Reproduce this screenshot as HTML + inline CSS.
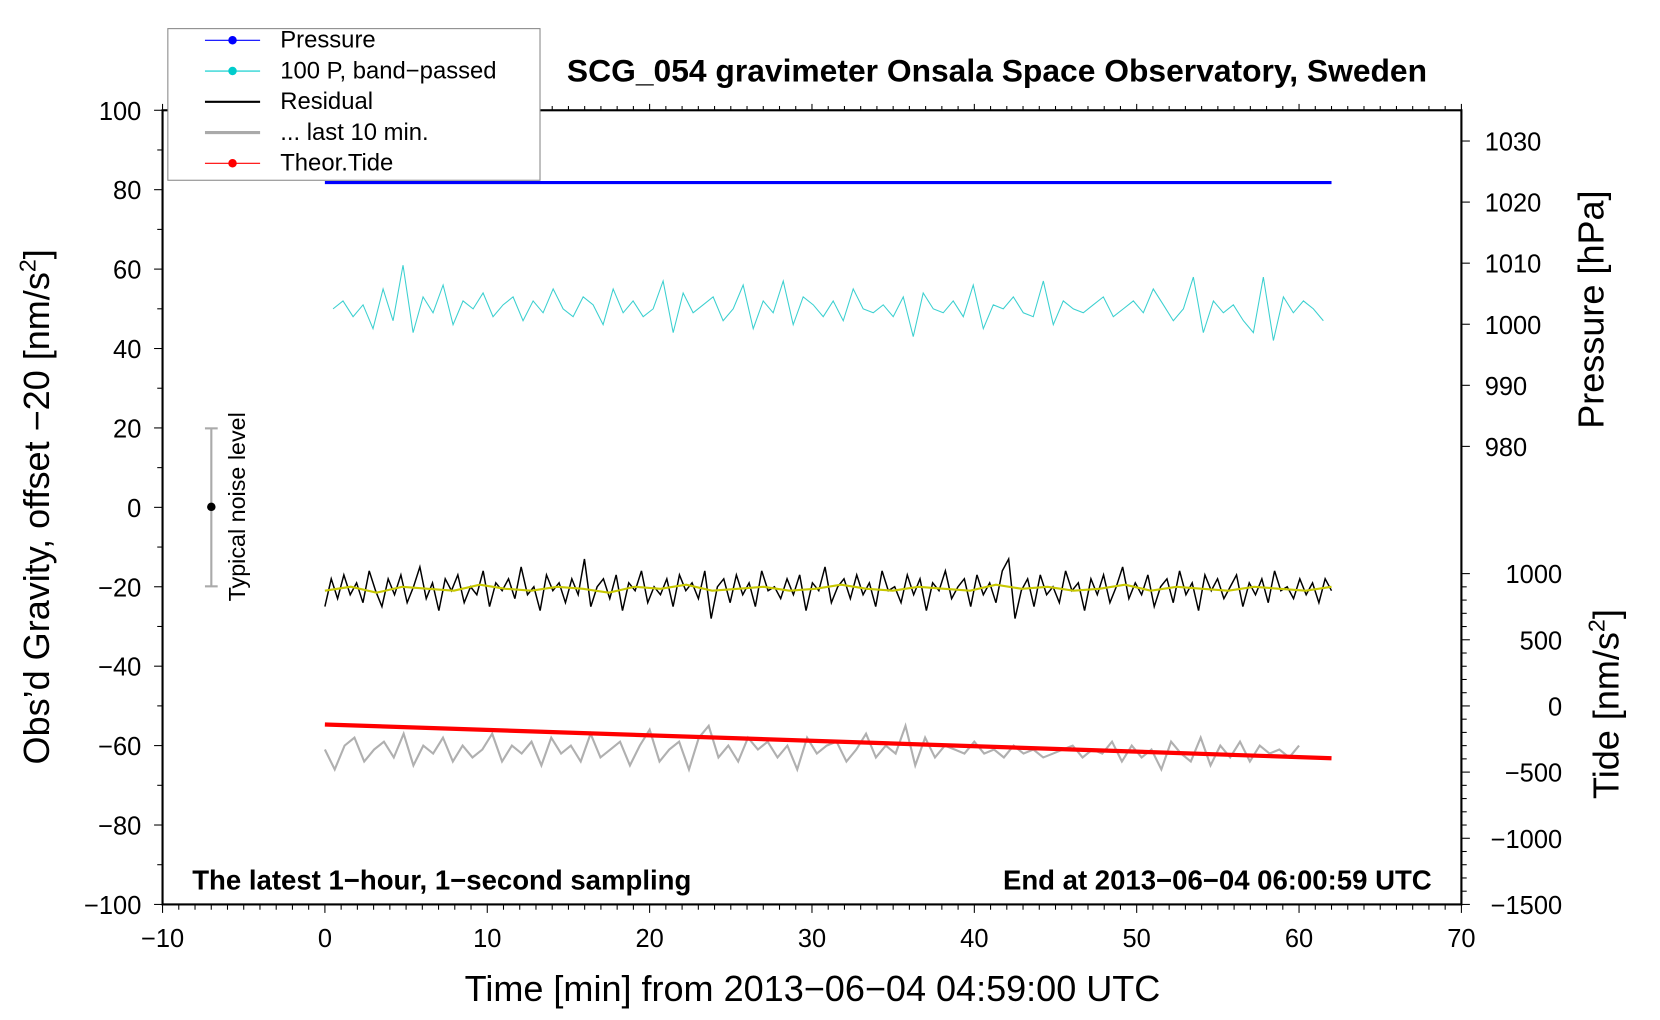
<!DOCTYPE html>
<html><head><meta charset="utf-8"><style>
html,body{margin:0;padding:0;background:#fff}
svg{display:block;font-family:"Liberation Sans",Helvetica,Arial,sans-serif}
</style></head><body>
<svg id="chart" width="1660" height="1020" viewBox="0 0 1565 962" xmlns="http://www.w3.org/2000/svg">
<g id="marks"></g>
<g id="axes"></g>
<text x="940" y="77" text-anchor="middle" font-size="30" font-weight="bold">SCG_054 gravimeter Onsala Space Observatory, Sweden</text>
<text transform="translate(46,478) rotate(-90)" text-anchor="middle" font-size="34">Obs’d Gravity, offset −20 [nm/s<tspan dy="-13" font-size="22">2</tspan><tspan dy="13">]</tspan></text>
<text transform="translate(1512,292) rotate(-90)" text-anchor="middle" font-size="34">Pressure [hPa]</text>
<text transform="translate(1526,664) rotate(-90)" text-anchor="middle" font-size="34">Tide [nm/s<tspan dy="-13" font-size="22">2</tspan><tspan dy="13">]</tspan></text>
<text x="766" y="944" text-anchor="middle" font-size="34">Time [min] from 2013−06−04 04:59:00 UTC</text>
<text x="181" y="839" font-size="26" font-weight="bold">The latest 1−hour, 1−second sampling</text>
<text x="1350" y="839" text-anchor="end" font-size="26" font-weight="bold">End at 2013−06−04 06:00:59 UTC</text>
<g>
<line x1="199" y1="404" x2="199" y2="553" stroke="#aaa" stroke-width="2"/>
<line x1="193" y1="404" x2="205" y2="404" stroke="#aaa" stroke-width="2"/>
<line x1="193" y1="553" x2="205" y2="553" stroke="#aaa" stroke-width="2"/>
<circle cx="199" cy="478" r="4" fill="#000"/>
<text transform="translate(231,478) rotate(-90)" text-anchor="middle" font-size="22">Typical noise level</text>
</g>
<g>
<rect x="158" y="27" width="351" height="143" fill="#fff" stroke="#888" stroke-width="1"/>
<g><line x1="193" y1="38" x2="245" y2="38" stroke="#00f" stroke-width="1"/><circle cx="219" cy="38" r="4" fill="#00f"/><text x="264" y="45" font-size="22.5">Pressure</text></g>
<g><line x1="193" y1="67" x2="245" y2="67" stroke="#0cc" stroke-width="1"/><circle cx="219" cy="67" r="4" fill="#0cc"/><text x="264" y="74" font-size="22.5">100 P, band−passed</text></g>
<g><line x1="193" y1="96" x2="245" y2="96" stroke="#000" stroke-width="2"/><text x="264" y="103" font-size="22.5">Residual</text></g>
<g><line x1="193" y1="125" x2="245" y2="125" stroke="#aaa" stroke-width="3"/><text x="264" y="132" font-size="22.5">... last 10 min.</text></g>
<g><line x1="193" y1="154" x2="245" y2="154" stroke="#f00" stroke-width="1"/><circle cx="219" cy="154" r="4" fill="#f00"/><text x="264" y="161" font-size="22.5">Theor.Tide</text></g>
</g>
</svg>
<script>
const pressureTimes = [0, 62];
const pressureValues = [1023.2, 1023.2];
const bandPassed = [50,52,48,51,45,55,47,61,44,53,49,56,46,52,50,54,48,51,53,47,52,49,55,50,48,53,51,46,55,49,52,48,50,57,44,54,49,51,53,47,50,56,45,52,49,57,46,53,51,48,52,47,55,50,49,51,48,53,43,54,50,49,52,48,56,45,51,50,53,49,48,57,46,52,50,49,51,53,48,50,52,49,55,51,47,50,58,44,52,49,51,47,44,58,42,53,49,52,50,47];
const residual = [-25,-18,-23,-17,-22,-19,-24,-16,-21,-25,-18,-22,-17,-24,-20,-15,-23,-19,-26,-18,-21,-17,-24,-20,-22,-16,-25,-19,-21,-18,-23,-15,-22,-20,-26,-17,-21,-19,-24,-18,-22,-13,-25,-20,-18,-23,-17,-26,-19,-21,-16,-24,-20,-22,-18,-25,-17,-21,-19,-23,-16,-28,-20,-18,-24,-17,-22,-19,-25,-16,-21,-20,-23,-18,-22,-17,-26,-19,-21,-15,-24,-20,-18,-23,-17,-22,-19,-25,-16,-21,-20,-24,-17,-22,-18,-26,-19,-21,-16,-23,-20,-18,-25,-17,-22,-19,-24,-16,-13,-28,-21,-18,-25,-17,-22,-20,-24,-16,-21,-19,-26,-18,-22,-17,-24,-20,-15,-23,-19,-22,-17,-25,-20,-18,-24,-16,-22,-19,-26,-17,-21,-18,-23,-20,-17,-25,-19,-22,-18,-24,-16,-21,-20,-23,-18,-22,-19,-24,-18,-21];
const residualSmooth = [-21,-20,-21.5,-20,-20.5,-21,-19.5,-20.5,-21,-20,-20.5,-21.5,-20,-20.5,-19.5,-21,-20.5,-20,-21,-20.5,-19.5,-20.5,-21,-20,-20.5,-21,-19.5,-20.5,-20,-21,-20.5,-19.5,-21,-20,-20.5,-21,-20,-20.5,-21,-20];
const lastTen = [-61,-66,-60,-58,-64,-61,-59,-63,-57,-65,-60,-62,-58,-64,-60,-63,-61,-57,-64,-60,-62,-59,-65,-58,-62,-60,-64,-57,-63,-61,-59,-65,-60,-56,-64,-61,-59,-66,-58,-55,-63,-60,-64,-58,-61,-59,-63,-60,-66,-58,-62,-60,-59,-64,-61,-57,-63,-60,-62,-55,-65,-58,-63,-60,-61,-62,-59,-62,-61,-63,-60,-62,-61,-63,-62,-61,-60,-63,-61,-62,-59,-64,-60,-63,-61,-66,-59,-62,-64,-58,-65,-60,-63,-59,-64,-60,-62,-61,-63,-60];
const tideTimes = [0, 62];
const tideValues = [-140, -395];
const xTicks = [-10,0,10,20,30,40,50,60,70];
const yTicks = [100,80,60,40,20,0,-20,-40,-60,-80,-100];
const pressureTicks = [1030,1020,1010,1000,990,980];
const tideTicks = [1000,500,0,-500,-1000,-1500];

const L=153,R=1378,T=104,B=853;
const X=t=>L+(t+10)*(R-L)/80;
const Y=v=>T+(100-v)*(B-T)/200;
const YP=p=>133+(1030-p)*(421-133)/50;
const YT=v=>853-(v+1500)*(853-541)/2500;
const NS='http://www.w3.org/2000/svg';
const marks=document.getElementById('marks'), axes=document.getElementById('axes');
function mk(tag,attrs,parent){const e=document.createElementNS(NS,tag);for(const k in attrs)e.setAttribute(k,attrs[k]);parent.appendChild(e);return e;}
function path(xs,ys){return xs.map((x,i)=>(i?'L':'M')+x.toFixed(1)+' '+ys[i].toFixed(1)).join('');}
function spread(arr,t0,t1){return arr.map((_,i)=>t0+(t1-t0)*i/(arr.length-1));}

let e;
e=mk('path',{d:path(spread(bandPassed,0.5,61.5).map(X),bandPassed.map(Y)),fill:'none',stroke:'#3cd0d0','stroke-width':1},marks);


e=mk('path',{d:path(spread(residual,0,62).map(X),residual.map(Y)),fill:'none',stroke:'#000','stroke-width':1.4},marks);


e=mk('path',{d:path(spread(residualSmooth,0,62).map(X),residualSmooth.map(Y)),fill:'none',stroke:'#c8c800','stroke-width':2},marks);


e=mk('path',{d:path(spread(lastTen,0,60).map(X),lastTen.map(Y)),fill:'none',stroke:'#b0b0b0','stroke-width':2},marks);


e=mk('path',{d:path(tideTimes.map(X),tideValues.map(YT)),fill:'none',stroke:'#f00','stroke-width':4},marks);


e=mk('path',{d:path(pressureTimes.map(X),pressureValues.map(YP)),fill:'none',stroke:'#00f','stroke-width':3},marks);



e=mk('rect',{x:L,y:T,width:R-L,height:B-T,fill:'none',stroke:'#000','stroke-width':2},axes);


for(let t=-10;t<=70;t++){const maj=t%10===0;
 mk('line',{x1:X(t),x2:X(t),y1:B,y2:B+(maj?8:5),stroke:'#000','stroke-width':1},axes);
 mk('line',{x1:X(t),x2:X(t),y1:T,y2:T-(maj?6:4),stroke:'#000','stroke-width':1},axes);}
xTicks.forEach(t=>{e=mk('text',{x:X(t),y:B+40,'text-anchor':'middle','font-size':24},axes);e.textContent=String(t).replace('-','−');

});
for(let v=-100;v<=100;v+=10){const maj=v%20===0;mk('line',{x1:L,x2:L-(maj?8:5),y1:Y(v),y2:Y(v),stroke:'#000','stroke-width':1},axes);}
yTicks.forEach(v=>{e=mk('text',{x:L-20,y:Y(v)+9,'text-anchor':'end','font-size':24},axes);e.textContent=String(v).replace('-','−');

});
pressureTicks.forEach(p=>{mk('line',{x1:R,x2:R+8,y1:YP(p),y2:YP(p),stroke:'#000','stroke-width':1},axes);
e=mk('text',{x:1400,y:YP(p)+9,'font-size':24},axes);e.textContent=p;

});
for(let v=-1500;v<=1000;v+=100){const maj=v%500===0;mk('line',{x1:R,x2:R+(maj?8:5),y1:YT(v),y2:YT(v),stroke:'#000','stroke-width':1},axes);}
tideTicks.forEach(v=>{e=mk('text',{x:1473,y:YT(v)+9,'text-anchor':'end','font-size':24},axes);e.textContent=String(v).replace('-','−');

});
</script>
</body></html>
